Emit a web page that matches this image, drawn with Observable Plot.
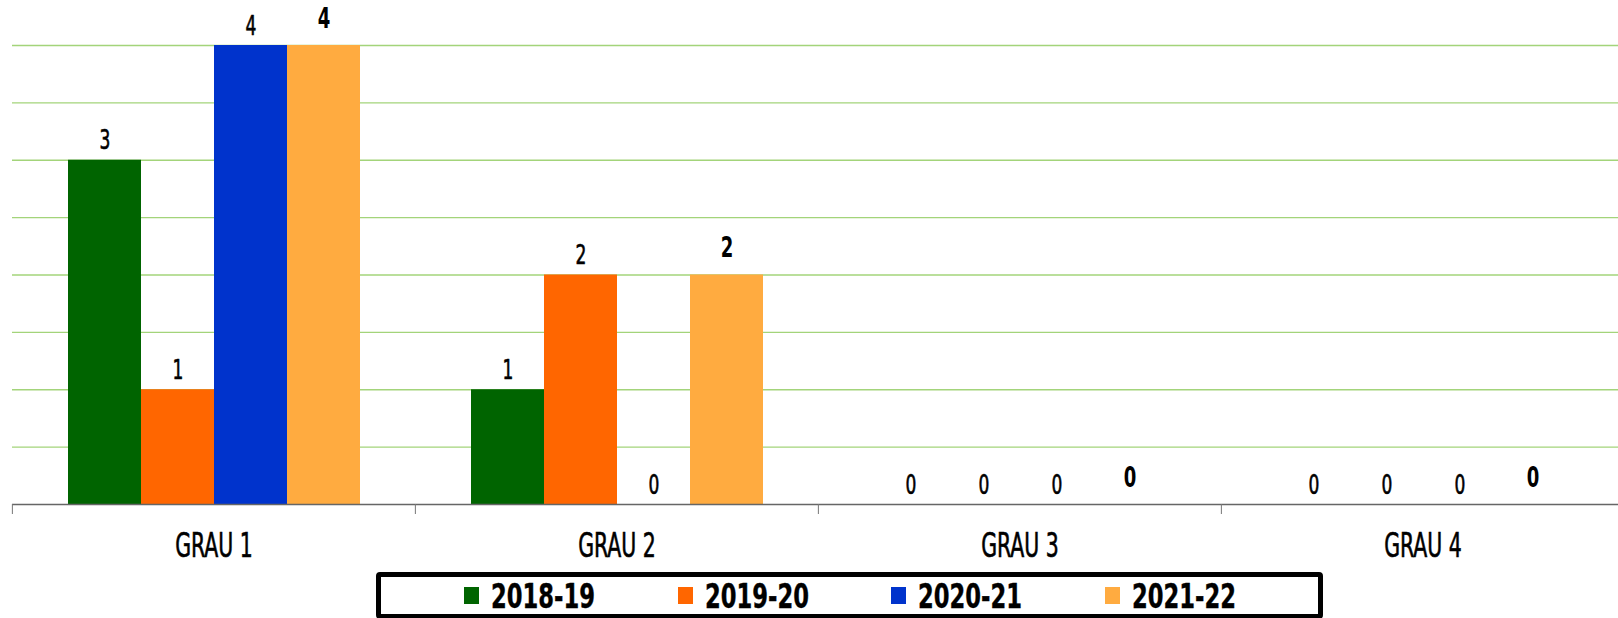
<!DOCTYPE html>
<html>
<head>
<meta charset="utf-8">
<script src="https://cdn.jsdelivr.net/npm/d3@7"></script>
<script src="https://cdn.jsdelivr.net/npm/@observablehq/plot@0.6"></script>
<style>
  html, body { margin: 0; padding: 0; background: #fff; overflow: hidden; }
  body { position: relative; width: 1618px; height: 618px; }
  #legend {
    position: absolute; left: 376px; top: 572px; width: 947px; height: 47px;
    box-sizing: border-box; border: 5px solid #000; border-radius: 4px;
    display: flex; align-items: center; padding-left: 83px;
    font-family: 'Liberation Sans Narrow', 'DejaVu Sans Condensed', 'Arial Narrow', sans-serif;
  }
  #legend .item { width: 216px; display: flex; align-items: center; }
  #legend .sw { width: 15px; height: 17px; margin-right: 12px; flex: none; }
  #legend .lb { font-size: 34px; font-weight: bold; line-height: 1; color: #000;
    display: inline-block; transform: scaleX(0.74); transform-origin: left center; white-space: nowrap;
    -webkit-text-stroke: 0.4px #000; }
</style>
</head>
<body>
<div id="chart"></div>
<div id="legend"></div>
<script>
const categories = ["GRAU 1", "GRAU 2", "GRAU 3", "GRAU 4"];
const series = ["2018-19", "2019-20", "2020-21", "2021-22"];
const values2018 = [3, 1, 0, 0];
const values2019 = [1, 2, 0, 0];
const values2020 = [4, 0, 0, 0];
const values2021 = [4, 2, 0, 0];
const colors = ["#006400", "#ff6600", "#0033cc", "#ffab40"];
const yTicks = [0.5, 1, 1.5, 2, 2.5, 3, 3.5, 4];

const seriesValues = [values2018, values2019, values2020, values2021];
const data = categories.flatMap((c, i) =>
  series.map((s, j) => ({grau: c, serie: s, value: seriesValues[j][i]}))
);
const boldSerie = series[series.length - 1];

const FONT = "'Liberation Sans Narrow', 'DejaVu Sans Condensed', 'Arial Narrow', sans-serif";
const W = 1618, H = 566, ML = 11, MR = -6;
const band = (W - ML - MR) / categories.length;

const chart = Plot.plot({
  width: W,
  height: H,
  marginLeft: ML,
  marginRight: MR,
  marginTop: 45,
  marginBottom: 62,
  style: {fontFamily: FONT, background: "white", color: "#000"},
  fx: {domain: categories, padding: 0, label: null},
  x: {domain: series, paddingInner: 0, paddingOuter: 0.75, axis: null},
  y: {domain: [0, 4], axis: null},
  color: {domain: series, range: colors},
  marks: [
    Plot.gridY(yTicks, {stroke: "#a3d47a", strokeOpacity: 1, strokeWidth: 1.3}),
    Plot.barY(data, {fx: "grau", x: "serie", y: "value", fill: "serie"}),
    Plot.text(data.filter(d => d.serie !== boldSerie), {
      fx: "grau", x: "serie", y: "value", text: d => String(d.value),
      lineAnchor: "bottom", dy: -11, fontSize: 26, fill: "#000",
      stroke: "#000", strokeWidth: 0.6
    }),
    Plot.text(data.filter(d => d.serie === boldSerie), {
      fx: "grau", x: "serie", y: "value", text: d => String(d.value),
      lineAnchor: "bottom", dy: -18, fontSize: 27.5, fontWeight: "bold", fill: "#000"
    }),
    Plot.ruleY([0], {stroke: "#666", strokeWidth: 1.5}),
    Plot.axisFx({anchor: "bottom", tickSize: 10, tickFormat: () => "", dx: -band / 2, stroke: "#777", label: null}),
    Plot.axisFx({anchor: "bottom", tickSize: 0, tickPadding: 29, fontSize: 33, label: null, fill: "#000"})
  ]
});
document.getElementById("chart").appendChild(chart);

// condense text horizontally (narrow typeface look)
function condense(selector, k, sw) {
  chart.querySelectorAll(selector).forEach(t => {
    const b = t.getBBox();
    const cx = b.x + b.width / 2;
    const tr = t.getAttribute("transform") || "";
    t.setAttribute("transform", `${tr} translate(${cx},0) scale(${k},1) translate(${-cx},0)`);
    if (sw) { t.setAttribute("stroke", "#000"); t.setAttribute("stroke-width", sw); }
  });
}
condense('[aria-label="fx-axis tick label"] text', 0.69, 0.6);
condense('g[aria-label="text"] text', 0.73, 0);

const legend = document.getElementById("legend");
series.forEach((s, i) => {
  const item = document.createElement("div");
  item.className = "item";
  const sw = document.createElement("span");
  sw.className = "sw";
  sw.style.background = colors[i];
  const lb = document.createElement("span");
  lb.className = "lb";
  lb.textContent = s;
  item.appendChild(sw);
  item.appendChild(lb);
  legend.appendChild(item);
});
</script>
</body>
</html>
